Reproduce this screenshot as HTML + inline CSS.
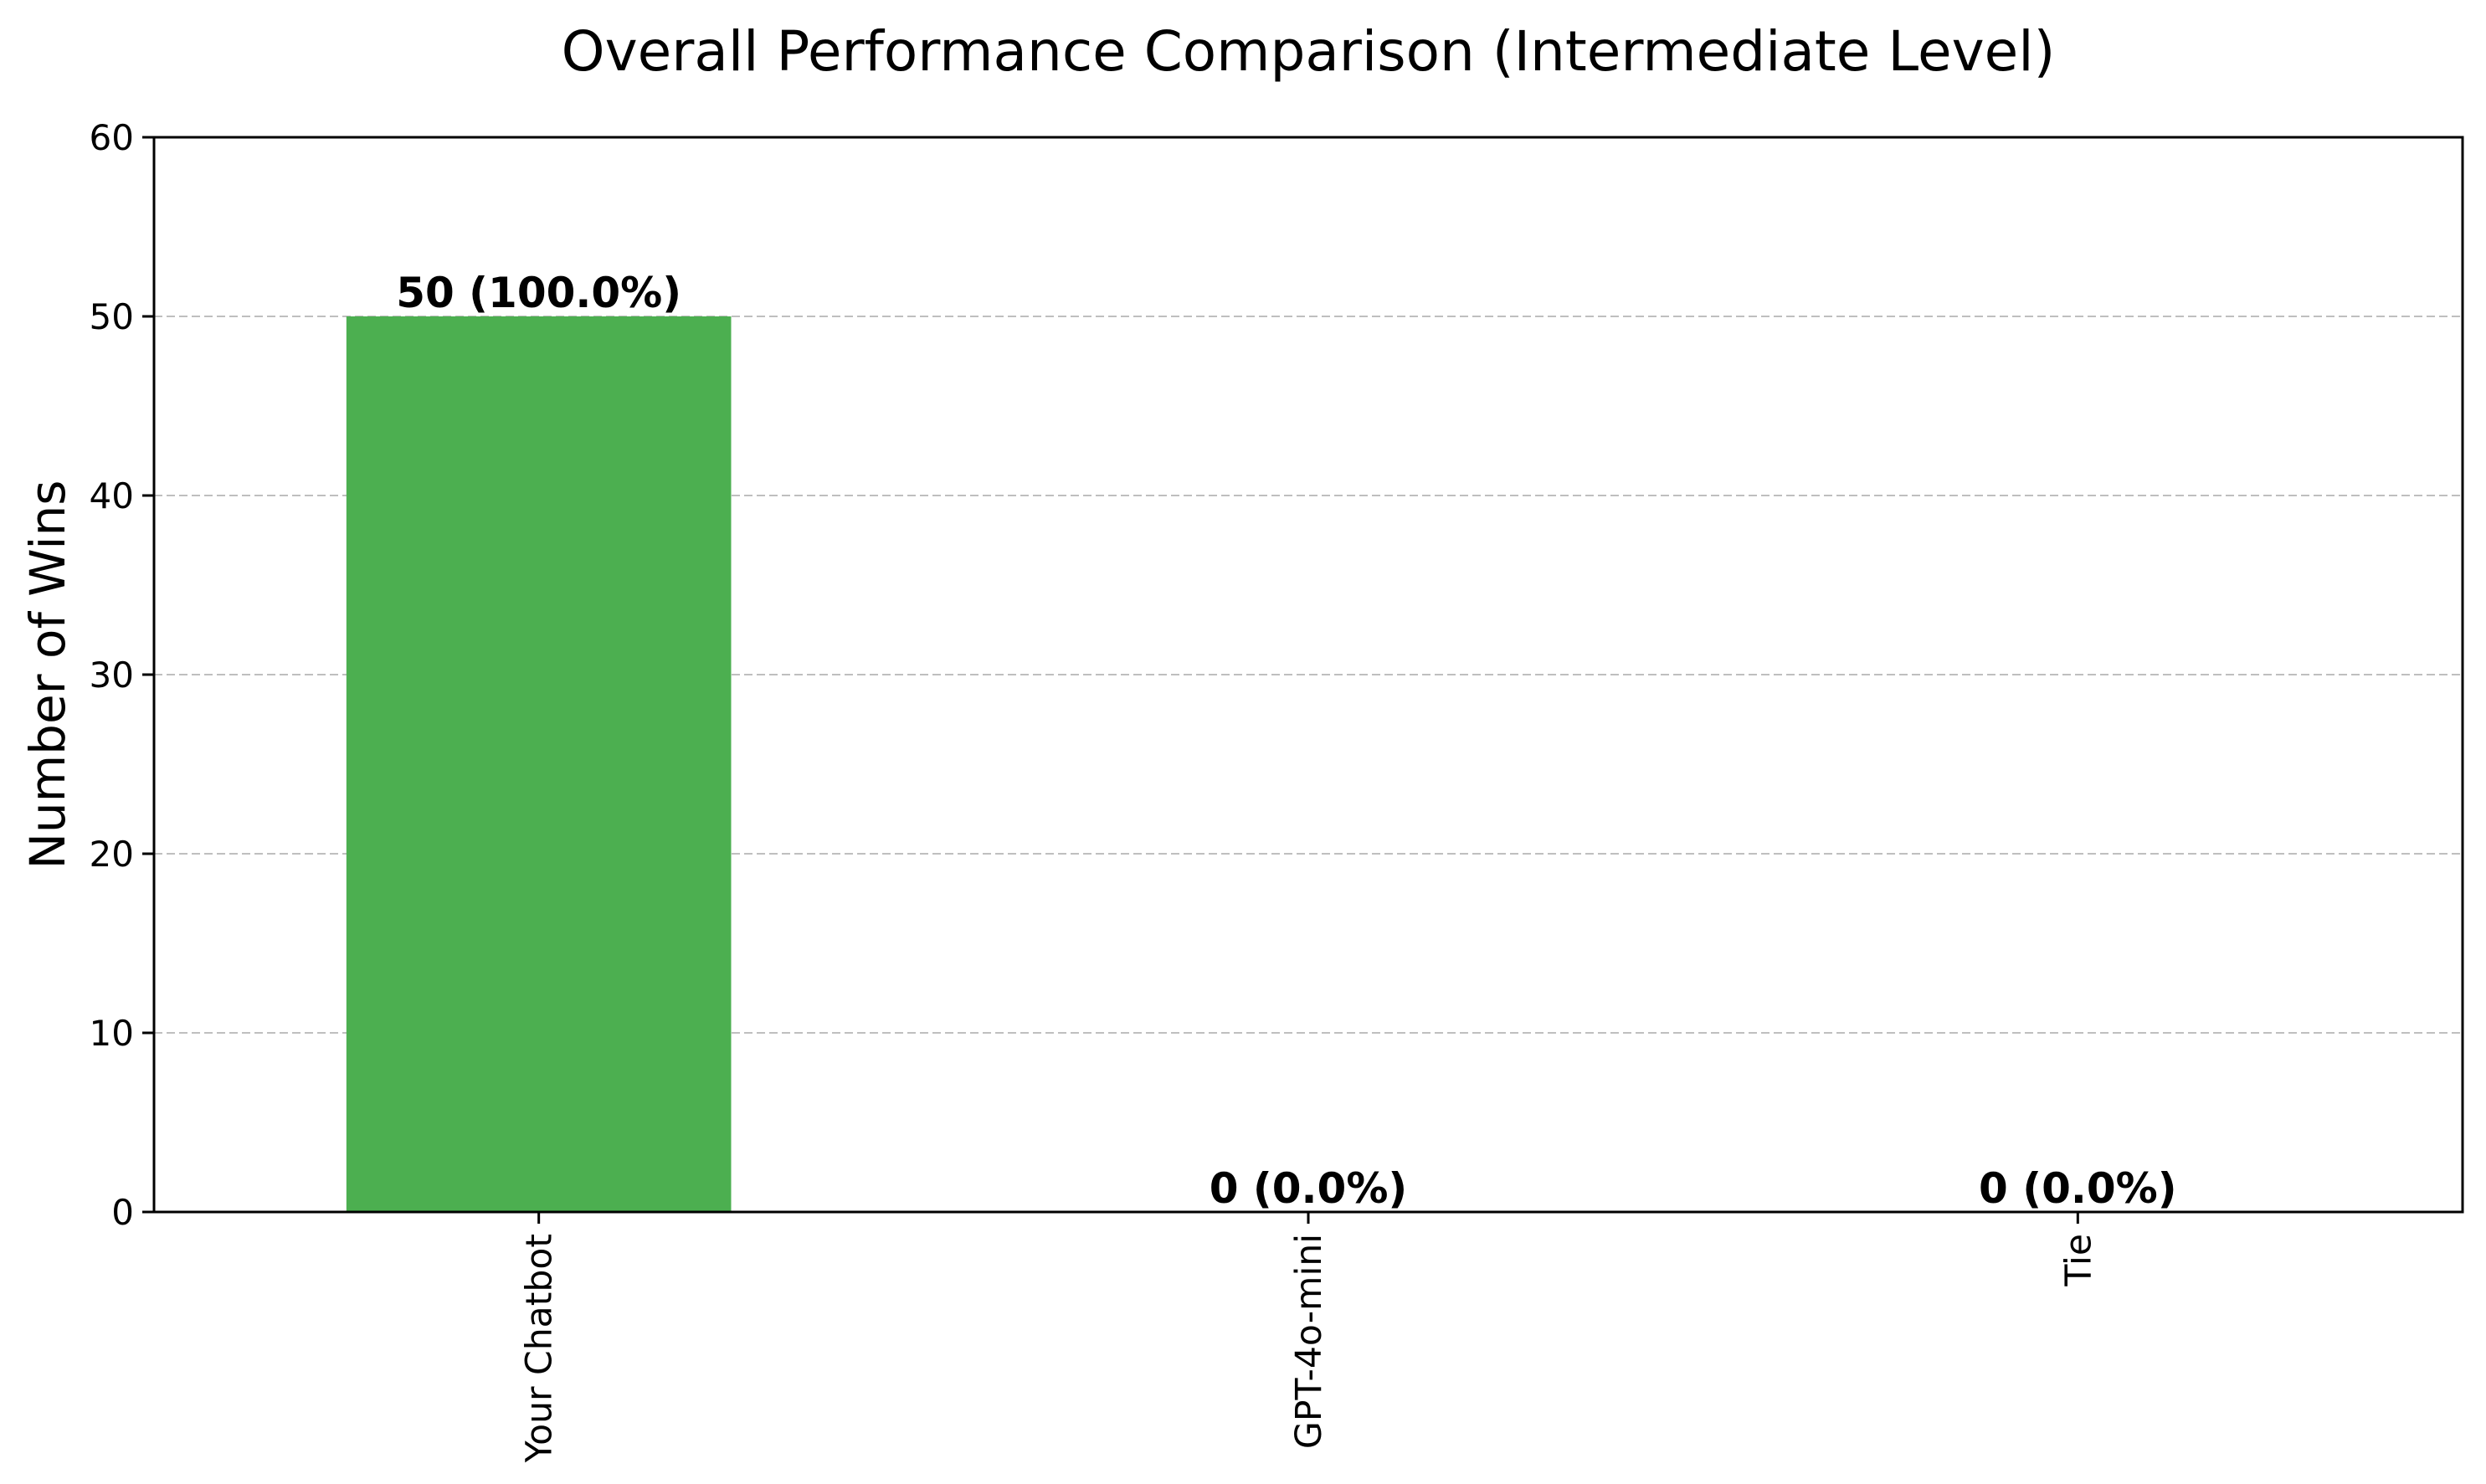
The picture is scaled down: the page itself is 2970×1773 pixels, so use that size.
<!DOCTYPE html>
<html><head><meta charset="utf-8"><style>
html,body{margin:0;padding:0;background:#fff;}
svg{display:block;font-family:"DejaVu Sans","Liberation Sans",sans-serif;}
</style></head>
<body>
<svg id="chart" width="2970" height="1773" viewBox="0 0 2970 1773" xmlns="http://www.w3.org/2000/svg">
<rect width="2970" height="1773" fill="#fff"/>
<text x="1563" y="84" font-size="66" text-anchor="middle">Overall Performance Comparison (Intermediate Level)</text>
<text transform="translate(77,806) rotate(-90)" font-size="58" text-anchor="middle">Number of Wins</text>
<g id="grid"></g>
<g id="bars"></g>
<g id="axes"></g>
<g id="labels"></g>
</svg>
<script>
const categories = ["Your Chatbot", "GPT-4o-mini", "Tie"];
const wins = [50, 0, 0];
const valueLabels = ["50 (100.0%)", "0 (0.0%)", "0 (0.0%)"];
const yTicks = [0, 10, 20, 30, 40, 50, 60];

const NS = "http://www.w3.org/2000/svg";
const L = 184, R = 2942, T = 164, B = 1448;
const yMax = 60, xMin = -0.5, xMax = 2.5;
function y(v){ return B - (v / yMax) * (B - T); }
function x(i){ return L + (i - xMin) / (xMax - xMin) * (R - L); }
function mk(tag, attrs, parent){
  const e = document.createElementNS(NS, tag);
  for (const k in attrs) e.setAttribute(k, attrs[k]);
  parent.appendChild(e); return e;
}
const grid = document.getElementById('grid');
const bars = document.getElementById('bars');
const axes = document.getElementById('axes');
const labels = document.getElementById('labels');

yTicks.forEach(t => {
  if (t > 0 && t < yMax) {
    const g = mk('line', {x1:L, x2:R, y1:y(t), y2:y(t), stroke:'#b0b0b0', 'stroke-width':2, 'stroke-dasharray':'10,5', opacity:0.8}, grid);
    
    
  }
  const tk = mk('line', {x1:L-14, x2:L, y1:y(t), y2:y(t), stroke:'#000', 'stroke-width':3}, axes);
  
  
  const tl = mk('text', {x:L-24, y:y(t)+15, 'font-size':42, 'text-anchor':'end'}, axes);
  tl.textContent = t;
  
  
});

const bw = 0.5;
categories.forEach((c, i) => {
  const x0 = x(i - bw/2), x1 = x(i + bw/2);
  const r = mk('rect', {x:x0, y:y(wins[i]), width:x1-x0, height:B - y(wins[i]), fill:'#4caf50'}, bars);
  
  
  const tk = mk('line', {x1:x(i), x2:x(i), y1:B, y2:B+14, stroke:'#000', 'stroke-width':3}, axes);
  
  
  const tl = mk('text', {transform:'translate(' + (x(i)+15) + ',' + (B+26) + ') rotate(-90)', 'font-size':42.5, 'text-anchor':'end'}, axes);
  tl.textContent = c;
  
  
  const vl = mk('text', {x:x(i), y:y(wins[i]) - 11, 'font-size':50, 'font-weight':'bold', 'text-anchor':'middle'}, labels);
  vl.textContent = valueLabels[i];
  
  
});

const frame = mk('rect', {x:L, y:T, width:R-L, height:B-T, fill:'none', stroke:'#000', 'stroke-width':3}, axes);


</script>
</body></html>
